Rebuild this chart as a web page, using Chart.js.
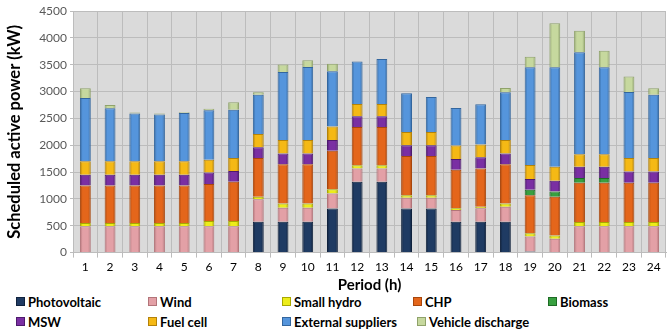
<!DOCTYPE html>
<html lang="en">
<head>
<meta charset="UTF-8" />
<title>Scheduled active power</title>
<script src="https://cdn.jsdelivr.net/npm/chart.js"></script>
<style>
  body { margin: 0; background: #fff; font-family: Lato, "Liberation Sans", sans-serif; }
  #wrap { position: relative; width: 671px; height: 333px; }
  #box { position: absolute; left: 0; top: 0; width: 671px; height: 294px; }
  #legend { position: absolute; left: 0; top: 294px; width: 671px; height: 39px; font-weight: bold; font-size: 13px; color: #000; }
  #legend span.item { position: absolute; white-space: nowrap; line-height: 16px; }
  #legend i { display: inline-block; width: 7px; height: 7px; margin-right: 3px; vertical-align: 1px; }
</style>
</head>
<body>
<div id="wrap">
  <div id="box"><canvas id="grafico"></canvas></div>
  <div id="legend"></div>
</div>

<script>
    const horas = ['1','2','3','4','5','6','7','8','9','10','11','12','13','14','15','16','17','18','19','20','21','22','23','24'];

    const photovoltaic = [0, 0, 0, 0, 0, 0, 0, 575, 575, 575, 823, 1318, 1318, 823, 823, 575, 575, 575, 20, 10, 0, 0, 0, 0];
    const wind = [490, 490, 490, 490, 490, 490, 490, 420, 260, 260, 280, 250, 250, 200, 200, 220, 250, 280, 280, 250, 490, 490, 490, 490];
    const smallHydro = [60, 60, 60, 60, 60, 100, 100, 45, 80, 80, 75, 60, 60, 45, 45, 30, 30, 60, 60, 60, 80, 80, 80, 80];
    const chp = [700, 700, 700, 700, 700, 690, 730, 720, 730, 730, 720, 710, 710, 730, 730, 720, 710, 730, 710, 720, 730, 730, 730, 730];
    const biomass = [0, 0, 0, 0, 0, 0, 0, 0, 0, 0, 0, 0, 0, 0, 0, 0, 0, 0, 100, 100, 90, 90, 0, 0];
    const msw = [200, 200, 200, 200, 200, 210, 200, 200, 200, 200, 200, 200, 200, 200, 200, 200, 210, 200, 200, 200, 210, 210, 210, 210];
    const fuelCell = [250, 250, 250, 250, 250, 240, 240, 250, 250, 250, 250, 230, 230, 250, 250, 250, 240, 250, 260, 260, 230, 230, 250, 250];
    const external = [1180, 990, 890, 870, 900, 920, 900, 730, 1270, 1360, 1030, 790, 840, 720, 650, 700, 750, 890, 1820, 1850, 1900, 1620, 1230, 1180];
    const vehicle = [180, 60, 20, 20, 15, 30, 140, 45, 140, 130, 140, 0, 0, 0, 0, 0, 0, 80, 200, 820, 400, 310, 290, 120];

    const yTicks = [0, 500, 1000, 1500, 2000, 2500, 3000, 3500, 4000, 4500];

    const series = [
        { label: 'Photovoltaic', data: photovoltaic, cor: '#1f3b63', borda: '#10223d' },
        { label: 'Wind', data: wind, cor: '#e3a0a6', borda: '#b27479' },
        { label: 'Small hydro', data: smallHydro, cor: '#eded1a', borda: '#a8a800' },
        { label: 'CHP', data: chp, cor: '#e4661b', borda: '#a8460c' },
        { label: 'Biomass', data: biomass, cor: '#38a040', borda: '#1e6b25' },
        { label: 'MSW', data: msw, cor: '#7a2fa3', borda: '#4e1a6d' },
        { label: 'Fuel cell', data: fuelCell, cor: '#f5b915', borda: '#b3820a' },
        { label: 'External suppliers', data: external, cor: '#5595dc', borda: '#33669e' },
        { label: 'Vehicle discharge', data: vehicle, cor: '#c6d89e', borda: '#8fa26a' }
    ];

    const BAR_PCT = 0.44;

    // gradiente horizontal para imitar o efeito em relevo das barras
    function relevo(ctx, cor, borda) {
        const chart = ctx.chart;
        const x = chart.scales && chart.scales.x;
        if (!chart.chartArea || !x) return cor;
        const cx = x.getPixelForValue(ctx.dataIndex);
        const w = (chart.chartArea.width / horas.length) * BAR_PCT;
        const g = chart.ctx.createLinearGradient(cx - w / 2, 0, cx + w / 2, 0);
        g.addColorStop(0, borda);
        g.addColorStop(0.25, cor);
        g.addColorStop(0.75, cor);
        g.addColorStop(1, borda);
        return g;
    }

    // fundo cinza da area do grafico
    const fundo = {
        id: 'fundo',
        beforeDraw(chart) {
            const { ctx, chartArea: a } = chart;
            ctx.save();
            ctx.fillStyle = '#dadada';
            ctx.fillRect(a.left, a.top, a.right - a.left, a.bottom - a.top);
            ctx.restore();
        }
    };

    new Chart(document.getElementById('grafico'), {
        type: 'bar',
        data: {
            labels: horas,
            datasets: series.map(s => ({
                label: s.label,
                data: s.data,
                backgroundColor: c => relevo(c, s.cor, s.borda),
                borderColor: s.borda,
                borderWidth: 1,
                barPercentage: BAR_PCT,
                categoryPercentage: 1
            }))
        },
        options: {
            responsive: true,
            maintainAspectRatio: false,
            animation: false,
            layout: { padding: { left: 5, right: 5, top: 11, bottom: 0 } },
            plugins: {
                legend: { display: false },
                tooltip: { enabled: false }
            },
            scales: {
                x: {
                    stacked: true,
                    grid: { color: '#bcbcbc', offset: true, tickLength: 5, tickColor: '#bcbcbc' },
                    border: { color: '#bcbcbc' },
                    ticks: { color: '#000', font: { family: 'Lato', size: 12 }, padding: 2, maxRotation: 0 },
                    title: { display: true, text: 'Period (h)', color: '#000', font: { family: 'Lato', size: 15, weight: 'bold' }, padding: { top: 0, bottom: 0 } }
                },
                y: {
                    stacked: true,
                    min: 0,
                    max: 4500,
                    afterBuildTicks: s => { s.ticks = yTicks.map(v => ({ value: v })); },
                    afterFit: s => { s.width = 68; },
                    grid: { color: '#bcbcbc', tickLength: 3, tickColor: '#bcbcbc' },
                    border: { color: '#bcbcbc' },
                    ticks: { color: '#595959', font: { family: 'Lato', size: 12 }, padding: 3, callback: v => String(v) },
                    title: { display: true, text: 'Scheduled active power (kW)', color: '#000', font: { family: 'Lato', size: 16.5, weight: 'bold' }, padding: { top: 0, bottom: 1 } }
                }
            }
        },
        plugins: [fundo]
    });

    // legenda em HTML, duas linhas
    const colunas = [[16, 0], [148, 0], [282, 0], [413, 0], [548, 0], [16, 20], [148, 20], [282, 20], [417, 20]];
    const leg = document.getElementById('legend');
    series.forEach((s, i) => {
        const el = document.createElement('span');
        el.className = 'item';
        el.style.left = colunas[i][0] + 'px';
        el.style.top = colunas[i][1] + 'px';
        el.innerHTML = '<i style="background:' + s.cor + ';border:1px solid ' + s.borda + '"></i>' + s.label;
        leg.appendChild(el);
    });
</script>
</body>
</html>
